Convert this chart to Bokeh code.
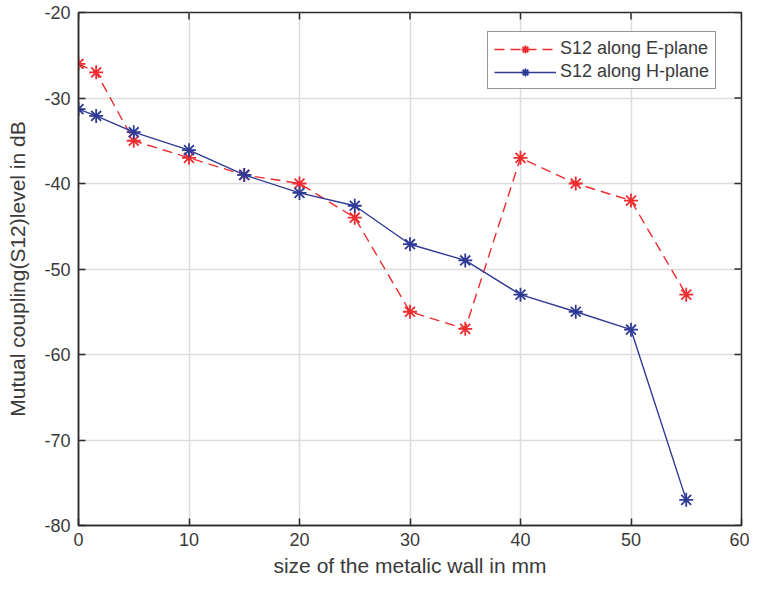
from bokeh.plotting import figure
from bokeh.models import LinearAxis, Range1d, FixedTicker, Legend, LegendItem, PrintfTickFormatter
from bokeh.embed import file_html
from bokeh.resources import INLINE
import math

# ---- data ----
wall_size = [0, 1.6, 5, 10, 15, 20, 25, 30, 35, 40, 45, 50, 55]
s12_e_plane = [-26, -27, -35, -37, -39, -40, -44, -55, -57, -37, -40, -42, -53]
s12_h_plane = [-31.3, -32.1, -34, -36.1, -39, -41.1, -42.6, -47.1, -49, -53, -55, -57.1, -77]
x_ticks = [0, 10, 20, 30, 40, 50, 60]
y_ticks = [-80, -70, -60, -50, -40, -30, -20]

RED = "#ee2b2e"
BLUE = "#2e3a96"
FONT = "Liberation Sans"
TXT = "#3a3a3a"
AX = "#2b2b2b"

x_min, x_max = x_ticks[0], x_ticks[-1]
y_min, y_max = y_ticks[0], y_ticks[-1]

p = figure(width=749, height=584, output_backend="svg", toolbar_location=None,
           x_range=Range1d(x_min, x_max), y_range=Range1d(y_min, y_max),
           min_border_left=78, min_border_right=8, min_border_top=12, min_border_bottom=59,
           x_axis_location=None, y_axis_location=None)

p.outline_line_color = AX
p.outline_line_width = 1.5
p.background_fill_color = "white"
p.border_fill_color = "white"

def style_axis(ax, ticks):
    ax.ticker = FixedTicker(ticks=ticks)
    ax.formatter = PrintfTickFormatter(format="%d")
    ax.axis_line_color = AX
    ax.axis_line_width = 1.5
    ax.major_tick_line_color = AX
    ax.major_tick_line_width = 1.5
    ax.major_tick_in = 7
    ax.major_tick_out = 0
    ax.minor_tick_line_color = None
    ax.major_label_text_font = FONT
    ax.major_label_text_color = TXT
    ax.major_label_text_font_size = "18px"
    ax.axis_label_text_font = FONT
    ax.axis_label_text_color = TXT
    ax.axis_label_text_font_style = "normal"
    ax.axis_label_text_font_size = "21px"

xb = LinearAxis(axis_label="size of the metalic wall in mm")
style_axis(xb, x_ticks)
xb.major_label_standoff = 7
xb.axis_label_standoff = 5
p.add_layout(xb, "below")

yl = LinearAxis(axis_label="Mutual coupling(S12)level in dB")
style_axis(yl, y_ticks)
yl.major_label_standoff = 8
yl.axis_label_standoff = 12
p.add_layout(yl, "left")

# tick marks on the top and right edges of the box (inside, like the reference)
p.scatter(x_ticks, [y_max] * len(x_ticks), marker="dash", size=14, angle=math.pi / 2,
          line_color=AX, line_width=1.5)
p.scatter([x_max] * len(y_ticks), y_ticks, marker="dash", size=14,
          line_color=AX, line_width=1.5)

p.xgrid.ticker = FixedTicker(ticks=x_ticks)
p.ygrid.ticker = FixedTicker(ticks=y_ticks)
p.xgrid.grid_line_color = "#dcdce0"
p.ygrid.grid_line_color = "#dcdce0"
p.xgrid.grid_line_width = 1.5
p.ygrid.grid_line_width = 1.5

le = p.line(wall_size, s12_e_plane, line_color=RED, line_width=1.4, line_dash="10 6")
se = p.scatter(wall_size, s12_e_plane, marker="asterisk", size=14, line_color=RED, line_width=1.8)
lh = p.line(wall_size, s12_h_plane, line_color=BLUE, line_width=1.4)
sh = p.scatter(wall_size, s12_h_plane, marker="asterisk", size=14, line_color=BLUE, line_width=1.8)

legend = Legend(items=[LegendItem(label="S12 along E-plane", renderers=[le, se]),
                       LegendItem(label="S12 along H-plane", renderers=[lh, sh])],
                location=(409, 436))
legend.margin = 0
legend.padding = 6
legend.spacing = 2
legend.glyph_width = 62
legend.glyph_height = 20
legend.label_standoff = 4
legend.label_text_font = FONT
legend.label_text_font_size = "18px"
legend.label_text_color = TXT
legend.border_line_color = AX
legend.border_line_width = 1.5
legend.background_fill_alpha = 1
p.add_layout(legend, "center")

open("out.html", "w").write(file_html(p, INLINE))
